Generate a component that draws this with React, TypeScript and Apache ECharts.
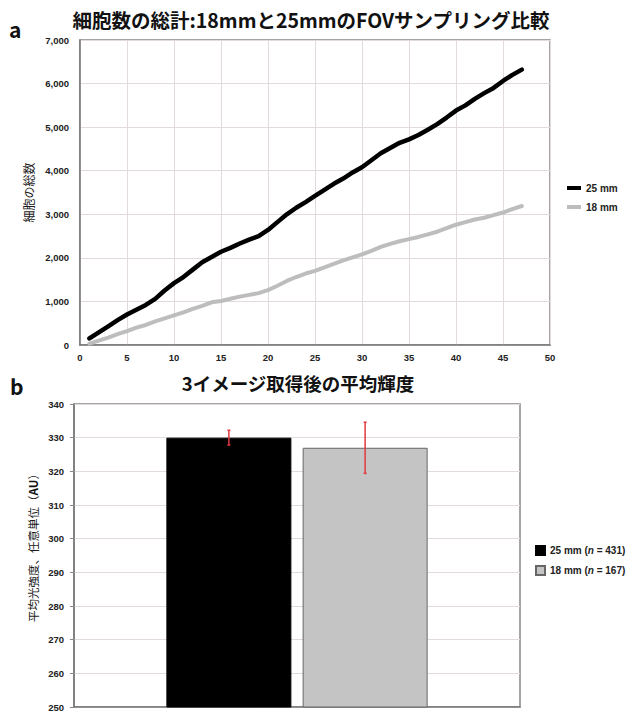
import React, { useEffect, useRef } from "react";
import * as echarts from "echarts";

// Chart a: cumulative cell counts per FOV index
const fovIndex = Array.from({ length: 47 }, (_, i) => i + 1);
const cells25mm = [
  150, 290, 430, 570, 700, 810, 920, 1060, 1250, 1420,
  1560, 1730, 1900, 2020, 2140, 2230, 2330, 2420, 2500, 2640,
  2820, 3000, 3150, 3280, 3420, 3560, 3700, 3820, 3960, 4080,
  4240, 4400, 4520, 4640, 4720, 4820, 4940, 5070, 5220, 5380,
  5500, 5650, 5780, 5900, 6060, 6200, 6320,
];
const cells18mm = [
  30, 100, 170, 250, 320, 400, 460, 540, 610, 680,
  750, 830, 900, 980, 1010, 1060, 1110, 1150, 1190, 1260,
  1360, 1470, 1560, 1640, 1700, 1780, 1860, 1940, 2010, 2080,
  2160, 2250, 2320, 2380, 2430, 2480, 2540, 2600, 2680, 2760,
  2820, 2880, 2920, 2980, 3040, 3120, 3190,
];

// Chart b: mean intensity
const barSeriesNames = ["25 mm", "18 mm"];
const barCounts = [431, 167];
const barMeans = [330, 327];
const barErrors = [2.2, 7.6];

const titleA = "細胞数の総計:18mmと25mmのFOVサンプリング比較";
const titleB = "3イメージ取得後の平均輝度";
const yNameA = "細胞の総数";
const yNameB = ["平均光強度、任意単位（", "AU", "）"];

const CJK = "'Noto Sans CJK JP', 'Noto Sans', sans-serif";
const NUM = "'Liberation Sans Narrow', 'Liberation Sans', Arial, sans-serif";

export default function App() {
  const ref = useRef<HTMLDivElement>(null);
  useEffect(() => {
    document.body.style.margin = "0";
    const chart = echarts.init(ref.current!, null, { renderer: "svg" });
    const BAR_W = 125;
    const BAR_GAP = 0.09;
    const gridLine = { lineStyle: { color: "#e3dada", width: 1 } };
    const axisLbl = { color: "#222", fontWeight: "bold", fontSize: 9.5, fontFamily: NUM };
    chart.setOption({
      animation: false,
      backgroundColor: "#fff",
      graphic: [
        { type: "text", left: 9, top: 18, style: { text: "a", font: `bold 21px ${CJK}`, fill: "#111" } },
        { type: "text", left: 10, top: 375, style: { text: "b", font: `bold 21px ${CJK}`, fill: "#111" } },
        { type: "text", x: 311, y: 19, style: { text: titleA, font: `bold 19.5px ${CJK}`, fill: "#111", align: "center", verticalAlign: "middle" } },
        { type: "text", x: 298, y: 383, style: { text: titleB, font: `bold 18.5px ${CJK}`, fill: "#111", align: "center", verticalAlign: "middle" } },
        {
          type: "text", x: 33, y: 545, rotation: Math.PI / 2,
          style: {
            text: `{n|${yNameB[0]}}{a|${yNameB[1]}}{n|${yNameB[2]}}`,
            align: "center", verticalAlign: "middle",
            rich: {
              n: { fontFamily: CJK, fontSize: 11.5, fill: "#1a1a1a" },
              a: { fontFamily: CJK, fontSize: 11.5, fill: "#111", fontWeight: "bold" },
            },
          },
        },
      ],
      grid: [
        { left: 80, top: 40, width: 470, height: 305, show: true, borderColor: "#888", borderWidth: 1.5, backgroundColor: "transparent" },
        { left: 74, top: 404, width: 446, height: 306, show: true, borderColor: "#888", borderWidth: 1.5, backgroundColor: "transparent" },
      ],
      legend: [
        {
          data: ["25 mm", "18 mm"].map((n) => ({ name: n })),
          left: 562, top: 178, orient: "vertical", itemGap: 9,
          icon: "rect", itemWidth: 14, itemHeight: 4,
          textStyle: { fontFamily: NUM, fontWeight: "bold", fontSize: 10, color: "#222" },
          selectedMode: false,
        },
        {
          data: barSeriesNames.map((n) => ({ name: n + " " })),
          left: 530, top: 540, orient: "vertical", itemGap: 9,
          icon: "rect", itemWidth: 9, itemHeight: 9,
          formatter: (name: string) => {
            const i = barSeriesNames.indexOf(name.trim());
            return `{b|${name.trim()} (}{i|n}{b| = ${barCounts[i]})}`;
          },
          textStyle: {
            fontFamily: NUM, fontWeight: "bold", fontSize: 10, color: "#222",
            rich: {
              b: { fontFamily: NUM, fontWeight: "bold", fontSize: 10, color: "#222" },
              i: { fontFamily: NUM, fontWeight: "bold", fontStyle: "italic", fontSize: 10, color: "#222" },
            },
          },
          selectedMode: false,
        },
      ],
      xAxis: [
        {
          gridIndex: 0, type: "value", min: 0, max: 50, interval: 5,
          axisLine: { show: true, lineStyle: { color: "#777", width: 1.5 } },
          axisTick: { show: false },
          axisLabel: { ...axisLbl, margin: 7 },
          splitLine: { show: true, ...gridLine },
        },
        {
          gridIndex: 1, type: "category", data: [""],
          axisLine: { show: true, lineStyle: { color: "#777", width: 1.5 } },
          axisTick: { show: false }, axisLabel: { show: false },
        },
      ],
      yAxis: [
        {
          gridIndex: 0, type: "value", min: 0, max: 7000, interval: 1000,
          name: yNameA, nameLocation: "middle", nameGap: 40, nameRotate: 90,
          nameTextStyle: { fontFamily: CJK, fontSize: 12, color: "#1a1a1a" },
          axisLine: { show: true, lineStyle: { color: "#777", width: 1.5 } },
          axisTick: { show: false },
          axisLabel: { ...axisLbl, margin: 11, formatter: (v: number) => v.toLocaleString("en-US") },
          splitLine: { show: true, ...gridLine },
        },
        {
          gridIndex: 1, type: "value", min: 250, max: 340, interval: 10,
          axisLine: { show: true, lineStyle: { color: "#777", width: 1.5 } },
          axisTick: { show: true, length: 4, lineStyle: { color: "#888" } },
          axisLabel: { ...axisLbl, margin: 10 },
          splitLine: { show: true, ...gridLine },
        },
      ],
      series: [
        {
          name: "25 mm", type: "line", xAxisIndex: 0, yAxisIndex: 0, symbol: "none",
          data: fovIndex.map((x, i) => [x, cells25mm[i]]),
          lineStyle: { color: "#000", width: 4.5, cap: "round", join: "round" },
          itemStyle: { color: "#000" }, z: 3,
        },
        {
          name: "18 mm", type: "line", xAxisIndex: 0, yAxisIndex: 0, symbol: "none",
          data: fovIndex.map((x, i) => [x, cells18mm[i]]),
          lineStyle: { color: "#bdbdbd", width: 4, cap: "round", join: "round" },
          itemStyle: { color: "#bdbdbd" }, z: 2,
        },
        ...barSeriesNames.map((n, i) => ({
          name: n + " ", type: "bar", xAxisIndex: 1, yAxisIndex: 1,
          data: [barMeans[i]], barWidth: BAR_W, barGap: `${BAR_GAP * 100}%`,
          itemStyle: i === 0 ? { color: "#000", borderColor: "#000", borderWidth: 1 } : { color: "#c4c4c4", borderColor: "#666", borderWidth: 1 },
        })),
        {
          type: "custom", xAxisIndex: 1, yAxisIndex: 1, z: 10, silent: true,
          data: barMeans.map((m, i) => [0, m - barErrors[i], m + barErrors[i], i]),
          renderItem: (params: any, api: any) => {
            const idx = api.value(3);
            const lo = api.coord([api.value(0), api.value(1)]);
            const hi = api.coord([api.value(0), api.value(2)]);
            const gap = BAR_W * BAR_GAP;
            const total = 2 * BAR_W + gap;
            const x = lo[0] - total / 2 + idx * (BAR_W + gap) + BAR_W / 2;
            const st = { stroke: "#e0393e", lineWidth: 1.5 };
            return {
              type: "group",
              children: [
                { type: "line", shape: { x1: x, y1: lo[1], x2: x, y2: hi[1] }, style: st },
                { type: "line", shape: { x1: x - 1.5, y1: lo[1], x2: x + 1.5, y2: lo[1] }, style: st },
                { type: "line", shape: { x1: x - 1.5, y1: hi[1], x2: x + 1.5, y2: hi[1] }, style: st },
              ],
            };
          },
        },
      ],
    });
    return () => chart.dispose();
  }, []);
  return <div ref={ref} style={{ width: 635, height: 712 }} />;
}
